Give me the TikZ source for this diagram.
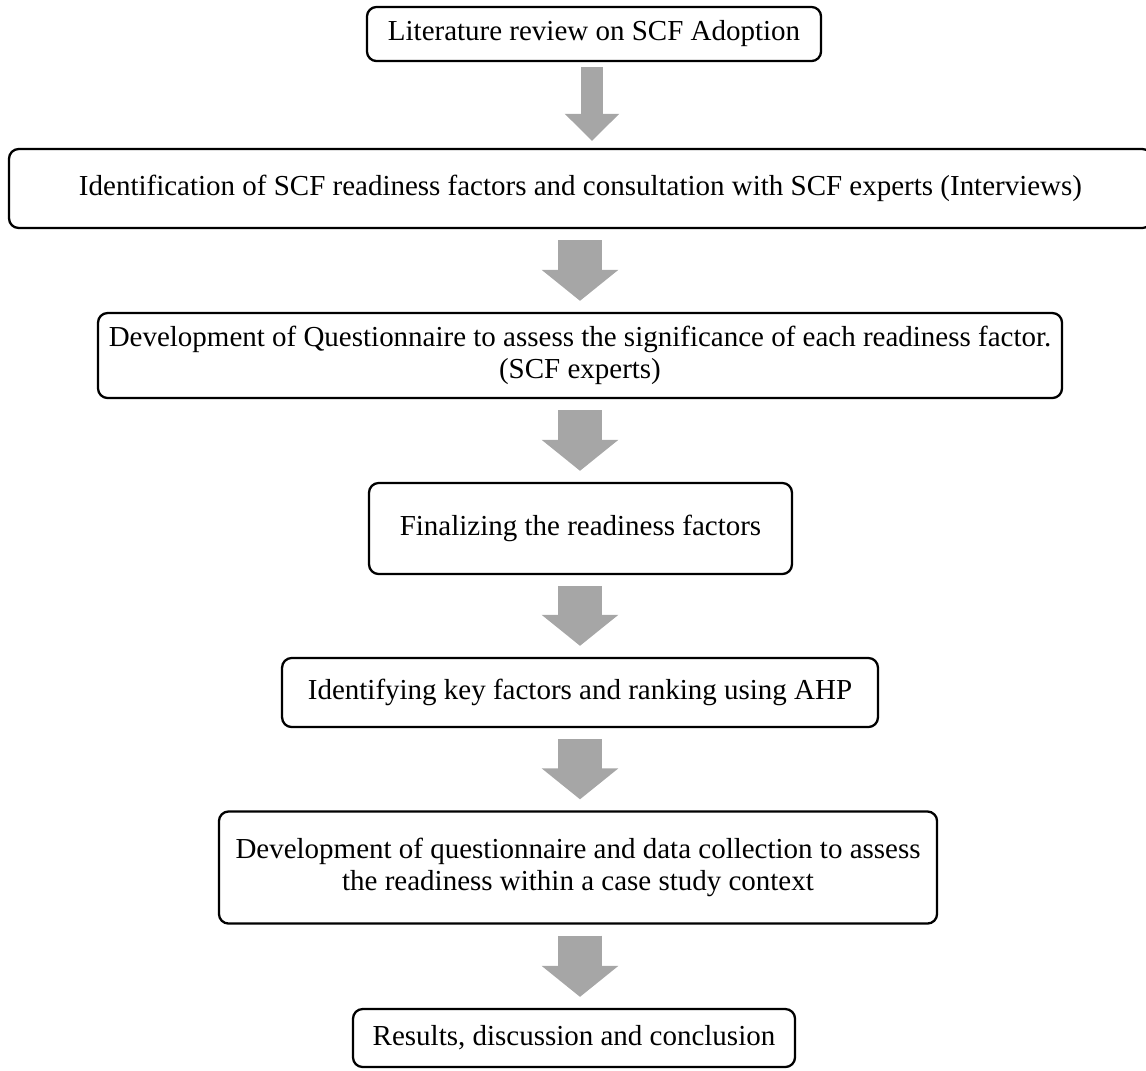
\documentclass[tikz,border=0pt]{standalone}
\usepackage{fontspec}
\setmainfont{Liberation Serif}
\usetikzlibrary{arrows.meta,calc}
\definecolor{arrowgray}{RGB}{166,166,166}
\begin{document}
\begin{tikzpicture}[x=0.414pt,y=-0.414pt,
  box/.style={draw=black, line width=0.95pt, rounded corners=4pt, align=center,
    inner sep=0pt, font=\fontsize{12}{13.5}\selectfont},
  flow/.style={draw=arrowgray, line width=18.2pt,
    -{Triangle[width=31pt,length=12.8pt]}},
  flowthin/.style={draw=arrowgray, line width=9.1pt,
    -{Triangle[width=21.9pt,length=11.2pt]}}]
\useasboundingbox (0,0) rectangle (1146,1070);

\node[box, minimum width=188pt, minimum height=22.4pt] (b1) at (594,34)
  {Literature review on SCF Adoption};
\node[box, minimum width=473.2pt, minimum height=32.7pt] (b2) at (580.5,188.5)
  {Identification of SCF readiness factors and consultation with SCF experts (Interviews)};
\node[box, minimum width=399.1pt, minimum height=35.2pt] (b3) at (580,355.5)
  {Development of Questionnaire to assess the significance of each readiness factor.\\(SCF experts)};
\node[box, minimum width=175.1pt, minimum height=37.7pt] (b4) at (580.5,528.5)
  {Finalizing the readiness factors};
\node[box, minimum width=246.7pt, minimum height=28.6pt] (b5) at (580,692.5)
  {Identifying key factors and ranking using AHP};
\node[box, minimum width=297.3pt, minimum height=46.4pt] (b6) at (578,867.5)
  {Development of questionnaire and data collection to assess\\the readiness within a case study context};
\node[box, minimum width=183pt, minimum height=24pt] (b7) at (574,1038)
  {Results, discussion and conclusion};

\coordinate (a1x) at (592,0);
\coordinate (ax) at (580,0);
\draw[flowthin] ($(b1.south -| a1x)+(0,5)$) -- ($(b2.north -| a1x)+(0,-7)$);
\draw[flow] ($(b2.south -| ax)+(0,11)$) -- ($(b3.north -| ax)+(0,-11)$);
\draw[flow] ($(b3.south -| ax)+(0,11)$) -- ($(b4.north -| ax)+(0,-11)$);
\draw[flow] ($(b4.south -| ax)+(0,11)$) -- ($(b5.north -| ax)+(0,-11)$);
\draw[flow] ($(b5.south -| ax)+(0,11)$) -- ($(b6.north -| ax)+(0,-11)$);
\draw[flow] ($(b6.south -| ax)+(0,11)$) -- ($(b7.north -| ax)+(0,-11)$);
\end{tikzpicture}
\end{document}
